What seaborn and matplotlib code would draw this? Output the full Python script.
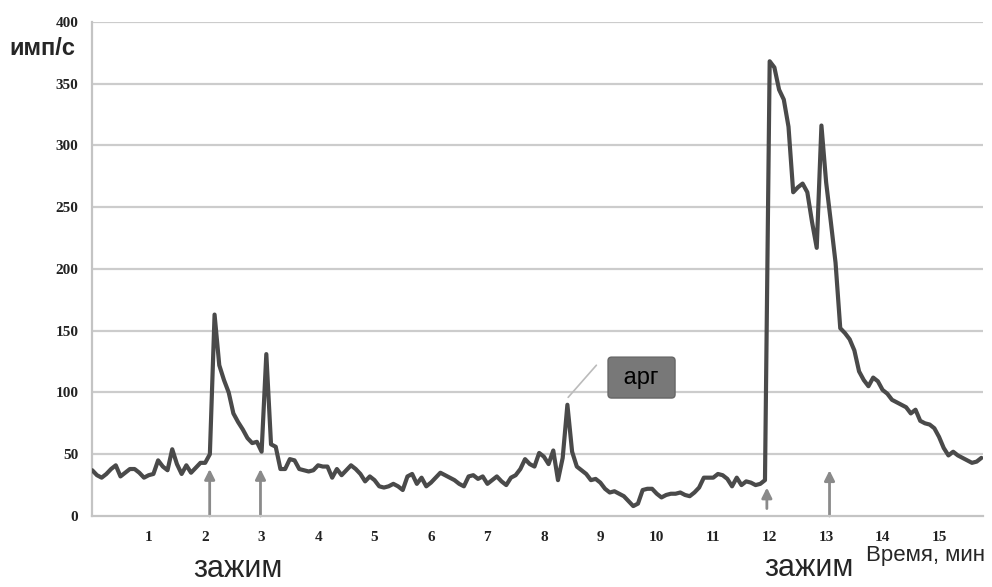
import numpy as np
import pandas as pd
import matplotlib
matplotlib.use('Agg')
import matplotlib.pyplot as plt
import seaborn as sns

# отсчёт каждые 5 с
counts = [37, 33, 31, 34, 38, 41, 32, 35, 38, 38,
          35, 31, 33, 34, 45, 40, 37, 54, 42, 34,
          41, 35, 39, 43, 43, 50, 163, 122, 110, 100,
          83, 76, 70, 63, 59, 60, 52, 131, 58, 56,
          38, 38, 46, 45, 38, 37, 36, 37, 41, 40,
          40, 31, 38, 33, 37, 41, 38, 34, 28, 32,
          29, 24, 23, 24, 26, 24, 21, 32, 34, 26,
          31, 24, 27, 31, 35, 33, 31, 29, 26, 24,
          32, 33, 30, 32, 26, 29, 32, 28, 25, 31,
          33, 38, 46, 42, 40, 51, 48, 42, 53, 29,
          47, 90, 52, 40, 37, 34, 29, 30, 27, 22,
          19, 20, 18, 16, 12, 8, 10, 21, 22, 22,
          18, 15, 17, 18, 18, 19, 17, 16, 19, 23,
          31, 31, 31, 34, 33, 30, 24, 31, 25, 28,
          27, 25, 26, 29, 368, 363, 345, 337, 315, 262,
          266, 269, 262, 238, 217, 316, 270, 238, 205, 152,
          148, 143, 134, 117, 110, 105, 112, 109, 102, 99,
          94, 92, 90, 88, 83, 86, 77, 75, 74, 71,
          64, 55, 49, 52, 49, 47, 45, 43, 44, 47]
step_min = 5 / 60
time_min = [i * step_min for i in range(len(counts))]

# стрелки "зажим": (время, низ, верх)
arrows = [(2.08, 0, 38), (2.98, 0, 38), (11.95, 6, 23), (13.06, 0, 37)]
x_ticks = list(range(1, 16))
y_ticks = list(range(0, 401, 50))

df = pd.DataFrame({'t': time_min, 'v': counts})

sns.set_style('white')
plt.rcParams['font.family'] = ['Liberation Sans', 'DejaVu Sans']

fig = plt.figure(figsize=(9.92, 5.87), dpi=100)
ax = fig.add_axes([0.093, 0.121, 0.898, 0.842])

for y in y_ticks[1:]:
    ax.axhline(y, color='#cccccc', lw=1.6, zorder=0)

sns.lineplot(data=df, x='t', y='v', ax=ax, color='#4a4a4a', lw=3, zorder=3)

for x, y0, y1 in arrows:
    ax.annotate('', xy=(x, y1), xytext=(x, y0),
                arrowprops=dict(arrowstyle='-|>', color='#8a8a8a', lw=2,
                                mutation_scale=15, shrinkA=0, shrinkB=0),
                zorder=2)

ax.set_xlim(0, 15.78)
ax.set_ylim(0, 400)
ax.set_xticks(x_ticks)
ax.set_xticks(np.arange(0, 15.78, 1 / 18), minor=True)
ax.set_yticks(y_ticks)
ax.tick_params(axis='x', which='both', length=3, color='#aaaaaa', width=0.8,
               direction='out', pad=8)
ax.tick_params(axis='y', length=8, color='#bbbbbb', width=1.2, pad=2)
for lbl in ax.get_xticklabels() + ax.get_yticklabels():
    lbl.set_family('Liberation Serif')
    lbl.set_fontweight('bold')
    lbl.set_fontsize(11)
    lbl.set_color('#222222')

sns.despine(ax=ax, top=True, right=True)
ax.spines['left'].set_color('#c4c4c4')
ax.spines['left'].set_linewidth(1.6)
ax.spines['bottom'].set_color('#c4c4c4')
ax.spines['bottom'].set_linewidth(1.6)
ax.set_xlabel('')
ax.set_ylabel('')

# аннотация "арг"
ax.plot([8.43, 8.93], [96, 122], color='#bbbbbb', lw=1.2, zorder=2)
ax.text(9.73, 112, ' арг ', fontsize=17, ha='center', va='center', color='black',
        bbox=dict(boxstyle='round,pad=0.4,rounding_size=0.15',
                  fc='#787878', ec='#666666', lw=1), zorder=5)

fig.text(0.009, 0.918, 'имп/с', fontsize=17, fontweight='bold', ha='left', va='center')
fig.text(0.24, 0.03, 'зажим', fontsize=22, ha='center', va='center')
fig.text(0.815, 0.032, 'зажим', fontsize=22, ha='center', va='center')
fig.text(0.933, 0.054, 'Время, мин', fontsize=16, ha='center', va='center')

fig.savefig('out.png', dpi=100)
